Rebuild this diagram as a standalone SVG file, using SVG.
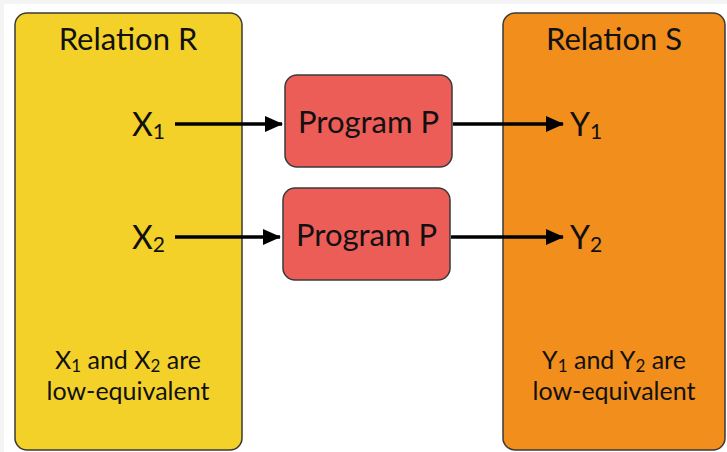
<svg xmlns="http://www.w3.org/2000/svg" width="727" height="452" viewBox="0 0 727 452">
<style>
text{font-family:Lato,"Liberation Sans",sans-serif;fill:#111;}
.big{font-size:31px;}
.lab{font-size:32px;}
.prog{font-size:31px;}
.small{font-size:25px;}
.box{stroke:#3a3a3a;stroke-width:1.5;}
.conn{stroke:#000;stroke-width:3.5;fill:none;}
</style>
<defs>
<marker id="ah" markerWidth="18" markerHeight="16" refX="17" refY="8" orient="auto" markerUnits="userSpaceOnUse" viewBox="0 0 18 16">
<path d="M0,0 L18,8 L0,16 z" fill="#000"/>
</marker>
</defs>
<rect x="0" y="0" width="727" height="452" fill="#f4f4f4"/>
<rect x="4" y="4" width="723" height="448" fill="#ffffff"/>
<g id="relationR">
<rect class="box" x="15" y="13" width="227" height="437" rx="12" fill="#F4D128"/>
<text class="big" x="128" y="50" text-anchor="middle">Relation R</text>
<text class="lab" x="165" y="136" text-anchor="end">X<tspan font-size="21" dy="3">1</tspan></text>
<text class="lab" x="165" y="249" text-anchor="end">X<tspan font-size="21" dy="3">2</tspan></text>
<text class="small" x="128" y="369" text-anchor="middle">X<tspan font-size="17" dy="3">1</tspan><tspan dy="-3"> and X</tspan><tspan font-size="17" dy="3">2</tspan><tspan dy="-3"> are</tspan></text>
<text class="small" x="128" y="400" text-anchor="middle">low-equivalent</text>
</g>
<g id="relationS">
<rect class="box" x="503" y="13" width="222" height="437" rx="12" fill="#F28E1C"/>
<text class="big" x="614" y="50" text-anchor="middle">Relation S</text>
<text class="lab" x="570" y="136">Y<tspan font-size="21" dy="3">1</tspan></text>
<text class="lab" x="570" y="249">Y<tspan font-size="21" dy="3">2</tspan></text>
<text class="small" x="614" y="369" text-anchor="middle">Y<tspan font-size="17" dy="3">1</tspan><tspan dy="-3"> and Y</tspan><tspan font-size="17" dy="3">2</tspan><tspan dy="-3"> are</tspan></text>
<text class="small" x="614" y="400" text-anchor="middle">low-equivalent</text>
</g>
<g id="program1">
<rect class="box" x="285" y="75" width="167" height="92" rx="12" fill="#EC5D57"/>
<text class="prog" x="368.5" y="133" text-anchor="middle">Program P</text>
</g>
<g id="program2">
<rect class="box" x="283" y="188" width="167" height="92" rx="12" fill="#EC5D57"/>
<text class="prog" x="366.5" y="246" text-anchor="middle">Program P</text>
</g>
<g id="connectors">
<line class="conn" x1="175" y1="124" x2="282" y2="124" marker-end="url(#ah)"/>
<line class="conn" x1="453" y1="124" x2="563" y2="124" marker-end="url(#ah)"/>
<line class="conn" x1="175" y1="237" x2="280" y2="237" marker-end="url(#ah)"/>
<line class="conn" x1="451" y1="237" x2="563" y2="237" marker-end="url(#ah)"/>
</g>
</svg>
